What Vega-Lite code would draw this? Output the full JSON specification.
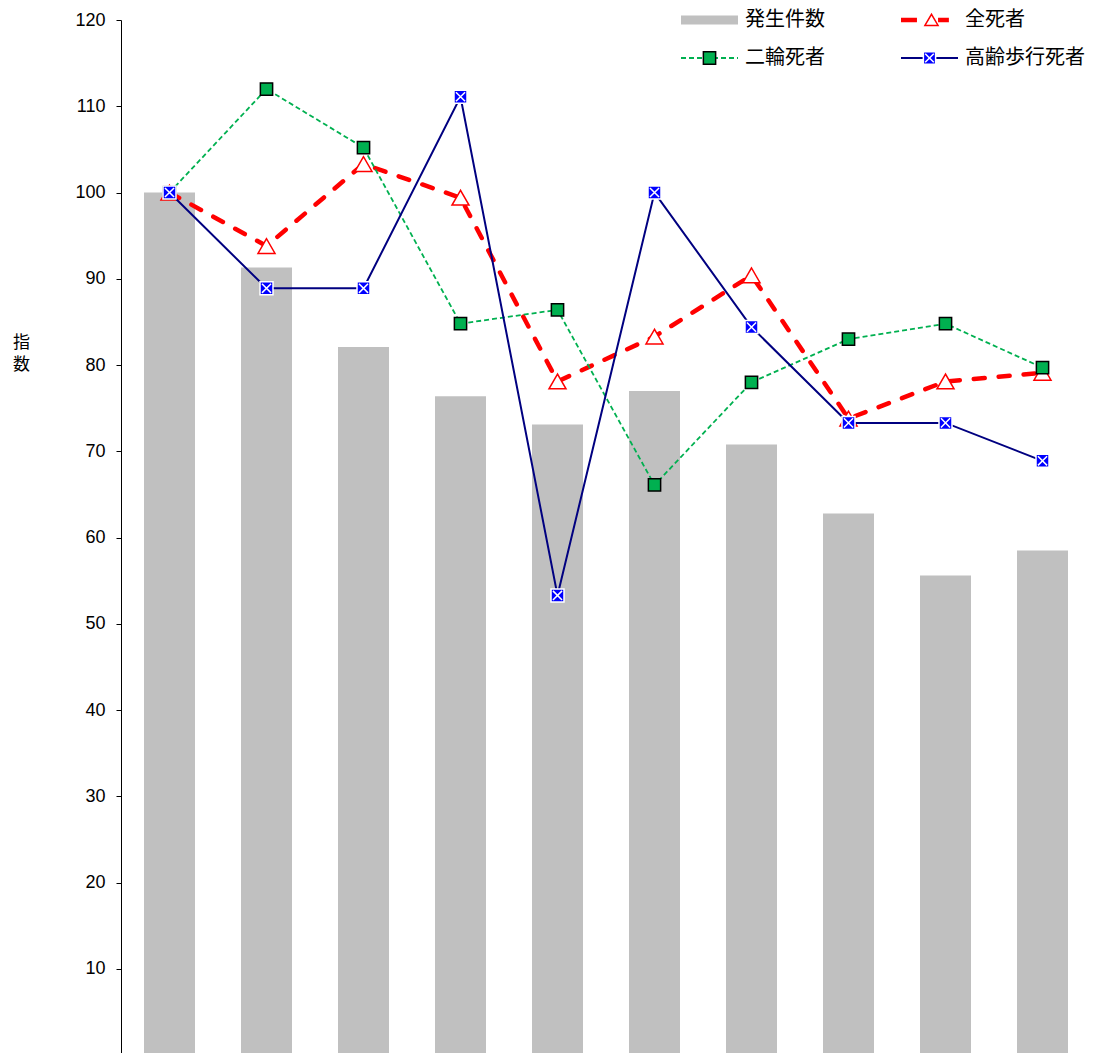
{
  "$schema": "https://vega.github.io/schema/vega-lite/v6.json",
  "width": 970,
  "height": 1033,
  "autosize": {"type": "none"},
  "padding": {"left": 121, "top": 20, "right": 8, "bottom": 0},
  "background": "white",
  "config": {
    "view": {"stroke": null},
    "legend": {
      "padding": 0,
      "orient": "none",
      "title": null,
      "labelFont": "Noto Sans CJK JP",
      "labelFontSize": 20,
      "labelColor": "black",
      "labelLimit": 400,
      "symbolSize": 3249,
      "symbolOpacity": 1
    }
  },
  "data": {
    "values": [
      {"i": 1, "series": "発生件数", "value": 100},
      {"i": 2, "series": "発生件数", "value": 91.3},
      {"i": 3, "series": "発生件数", "value": 82.1},
      {"i": 4, "series": "発生件数", "value": 76.4},
      {"i": 5, "series": "発生件数", "value": 73.1},
      {"i": 6, "series": "発生件数", "value": 77.0},
      {"i": 7, "series": "発生件数", "value": 70.8},
      {"i": 8, "series": "発生件数", "value": 62.8},
      {"i": 9, "series": "発生件数", "value": 55.6},
      {"i": 10, "series": "発生件数", "value": 58.5},
      {"i": 1, "series": "全死者", "value": 100},
      {"i": 2, "series": "全死者", "value": 93.8},
      {"i": 3, "series": "全死者", "value": 103.3},
      {"i": 4, "series": "全死者", "value": 99.4},
      {"i": 5, "series": "全死者", "value": 78.1},
      {"i": 6, "series": "全死者", "value": 83.3},
      {"i": 7, "series": "全死者", "value": 90.4},
      {"i": 8, "series": "全死者", "value": 73.8},
      {"i": 9, "series": "全死者", "value": 78.1},
      {"i": 10, "series": "全死者", "value": 79.1},
      {"i": 1, "series": "二輪死者", "value": 100},
      {"i": 2, "series": "二輪死者", "value": 112.0},
      {"i": 3, "series": "二輪死者", "value": 105.2},
      {"i": 4, "series": "二輪死者", "value": 84.8},
      {"i": 5, "series": "二輪死者", "value": 86.4},
      {"i": 6, "series": "二輪死者", "value": 66.1},
      {"i": 7, "series": "二輪死者", "value": 78.0},
      {"i": 8, "series": "二輪死者", "value": 83.0},
      {"i": 9, "series": "二輪死者", "value": 84.8},
      {"i": 10, "series": "二輪死者", "value": 79.7},
      {"i": 1, "series": "高齢歩行死者", "value": 100},
      {"i": 2, "series": "高齢歩行死者", "value": 88.9},
      {"i": 3, "series": "高齢歩行死者", "value": 88.9},
      {"i": 4, "series": "高齢歩行死者", "value": 111.1},
      {"i": 5, "series": "高齢歩行死者", "value": 53.3},
      {"i": 6, "series": "高齢歩行死者", "value": 100},
      {"i": 7, "series": "高齢歩行死者", "value": 84.4},
      {"i": 8, "series": "高齢歩行死者", "value": 73.3},
      {"i": 9, "series": "高齢歩行死者", "value": 73.3},
      {"i": 10, "series": "高齢歩行死者", "value": 68.9}
    ]
  },
  "encoding": {
    "x": {
      "field": "i",
      "type": "ordinal",
      "axis": null,
      "scale": {"paddingInner": 0.474, "paddingOuter": 0.237}
    },
    "y": {
      "field": "value",
      "type": "quantitative",
      "scale": {"domain": [0.26, 120], "zero": false, "nice": false},
      "axis": {
        "values": [10, 20, 30, 40, 50, 60, 70, 80, 90, 100, 110, 120],
        "grid": false,
        "title": ["指", "数"],
        "titleAngle": 0,
        "titleX": -100,
        "titleY": 322,
        "titleAlign": "center",
        "titleBaseline": "middle",
        "titleFont": "Noto Sans CJK JP",
        "titleFontSize": 17,
        "titleFontWeight": "normal",
        "titleLineHeight": 22.5,
        "titleColor": "black",
        "labelFont": "Liberation Sans",
        "labelFontSize": 18,
        "labelColor": "black",
        "labelPadding": 11,
        "tickSize": 5,
        "tickColor": "black",
        "domainColor": "black",
        "labelOverlap": false
      }
    }
  },
  "layer": [
    {
      "transform": [{"filter": "datum.series === '発生件数'"}],
      "mark": {"type": "bar", "clip": true, "color": "#c0c0c0"}
    },
    {
      "transform": [{"filter": "datum.series === '全死者'"}],
      "mark": {"type": "line", "color": "#ff0000", "strokeWidth": 4.5, "strokeDash": [11, 14], "strokeCap": "round"}
    },
    {
      "transform": [{"filter": "datum.series === '全死者'"}],
      "mark": {"type": "point", "shape": "triangle-up", "size": 289, "filled": true, "fill": "white", "stroke": "#ff0000", "strokeWidth": 1.5, "opacity": 1}
    },
    {
      "transform": [{"filter": "datum.series === '二輪死者'"}],
      "mark": {"type": "line", "color": "#00b050", "strokeWidth": 1.8, "strokeDash": [5, 3]}
    },
    {
      "transform": [{"filter": "datum.series === '二輪死者'"}],
      "mark": {"type": "point", "shape": "square", "size": 150, "filled": true, "fill": "#00b050", "stroke": "black", "strokeWidth": 1.5, "opacity": 1}
    },
    {
      "transform": [{"filter": "datum.series === '高齢歩行死者'"}],
      "mark": {"type": "line", "color": "#000080", "strokeWidth": 2}
    },
    {
      "transform": [{"filter": "datum.series === '高齢歩行死者'"}],
      "mark": {"type": "point", "shape": "M-1,-1H1V1H-1Z M-0.7,-0.7L0.7,0.7M-0.7,0.7L0.7,-0.7", "size": 169, "filled": true, "fill": "#0000ff", "stroke": "white", "strokeWidth": 1.5, "opacity": 1}
    },
    {
      "transform": [{"filter": "false"}],
      "mark": {"type": "point", "filled": true, "shape": "M-1,-1M1,1M-1,-0.16H1V0.16H-1Z", "strokeWidth": 0, "opacity": 1},
      "encoding": {
        "color": {
          "field": "series", "type": "nominal",
          "scale": {"domain": ["発生件数"], "range": ["#c0c0c0"]},
          "legend": {"orient": "none", "legendX": 560, "legendY": -28.5, "symbolStrokeWidth": 0, "labelOffset": 7}
        }
      }
    },
    {
      "transform": [{"filter": "false"}],
      "mark": {"type": "point", "filled": false, "shape": "M-1,-1M1,1M-1,0H-0.44M0.3,0H0.68", "strokeWidth": 4.5, "opacity": 1},
      "encoding": {
        "stroke": {
          "field": "series", "type": "nominal",
          "scale": {"domain": ["全死者"], "range": ["#ff0000"]},
          "legend": {"orient": "none", "legendX": 777.5, "legendY": -31, "symbolStrokeWidth": 4.5, "labelOffset": 4.5}
        }
      }
    },
    {
      "transform": [{"filter": "false"}],
      "mark": {"type": "point", "filled": false, "stroke": "#00b050", "shape": "M-1,-1M1,1M-1,0H1", "strokeWidth": 1.8, "opacity": 1},
      "encoding": {
        "strokeDash": {
          "field": "series", "type": "nominal",
          "scale": {"domain": ["二輪死者"], "range": [[5, 3]]},
          "legend": {"orient": "none", "legendX": 559, "legendY": 8.5, "symbolStrokeWidth": 1.8, "labelOffset": 6}
        }
      }
    },
    {
      "transform": [{"filter": "false"}],
      "mark": {"type": "point", "filled": false, "stroke": "#000080", "shape": "M-1,-1M1,1M-1,0H1", "strokeWidth": 2, "opacity": 1},
      "encoding": {
        "opacity": {
          "field": "series", "type": "ordinal",
          "scale": {"domain": ["高齢歩行死者"], "range": [1, 1]},
          "legend": {"orient": "none", "legendX": 779, "legendY": 8.5, "symbolStrokeWidth": 2, "labelOffset": 6}
        }
      }
    },
    {
      "transform": [{"filter": "false"}],
      "mark": {"type": "point", "filled": true, "fill": "white", "stroke": "#ff0000", "strokeWidth": 1.5, "opacity": 1},
      "encoding": {
        "shape": {
          "field": "series", "type": "nominal",
          "scale": {"domain": ["全死者 "], "range": ["M-1,-1M1,1M-0.16,0.19L0.07,-0.2L0.3,0.19Z"]},
          "legend": {"orient": "none", "legendX": 779, "legendY": -29.5, "symbolStrokeWidth": 1.5, "labelOpacity": 0}
        }
      }
    },
    {
      "transform": [{"filter": "false"}],
      "mark": {"type": "point", "filled": true, "stroke": "black", "shape": "M-1,-1M1,1M-0.215,-0.215H0.215V0.215H-0.215Z", "strokeWidth": 1.5, "opacity": 1},
      "encoding": {
        "fill": {
          "field": "series", "type": "nominal",
          "scale": {"domain": ["二輪死者 "], "range": ["#00b050"]},
          "legend": {"orient": "none", "legendX": 559, "legendY": 8.5, "symbolStrokeWidth": 1.5, "labelOpacity": 0}
        }
      }
    },
    {
      "transform": [{"filter": "false"}],
      "mark": {"type": "point", "filled": true, "fill": "#0000ff", "stroke": "white", "shape": "M-1,-1M1,1M-0.215,-0.215H0.215V0.215H-0.215ZM-0.15,-0.15L0.15,0.15M-0.15,0.15L0.15,-0.15", "strokeWidth": 1.5, "opacity": 1},
      "encoding": {
        "size": {
          "field": "series", "type": "ordinal",
          "scale": {"domain": ["高齢歩行死者 "], "range": [3249, 3249]},
          "legend": {"orient": "none", "legendX": 779, "legendY": 8.5, "symbolStrokeWidth": 1.5, "labelOpacity": 0}
        }
      }
    }
  ]
}
